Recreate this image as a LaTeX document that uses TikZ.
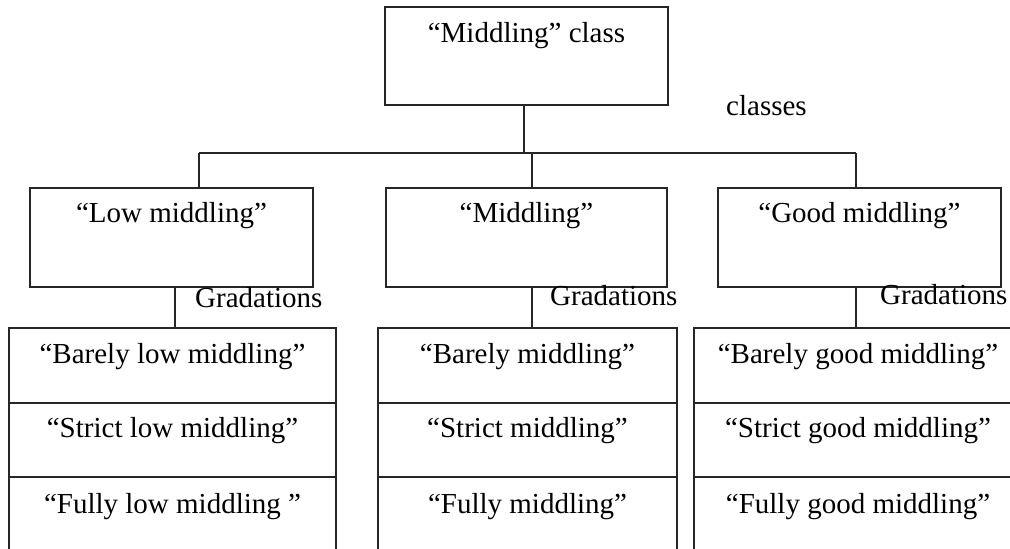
\documentclass[tikz,border=0pt]{standalone}
\usepackage{fontspec}
\setmainfont{Liberation Serif}
\begin{document}
\begin{tikzpicture}[x=1pt,y=-1pt,
  box/.style={draw=black!85, line width=1.3pt, rectangle, inner sep=0pt, fill=none},
  lbl/.style={anchor=base, inner sep=0pt, font=\fontsize{29}{35}\selectfont},
  conn/.style={draw=black!85, line width=1.3pt}]
\clip (0,0) rectangle (1010,549);
\fill[white] (0,0) rectangle (1010,549);
% top box
\node[box, minimum width=283pt, minimum height=98pt] (top) at (526.5,56) {};
\node[lbl] (topt) at (526.5,42) {“Middling” class};
\node[lbl, anchor=base west] (cls) at (726,115) {classes};
% level 2
\node[box, minimum width=283pt, minimum height=99pt] (low) at (171.5,237.5) {};
\node[box, minimum width=281pt, minimum height=99pt] (mid) at (526.5,237.5) {};
\node[box, minimum width=283pt, minimum height=99pt] (good) at (859.5,237.5) {};
\node[lbl] (lowt) at (171.5,222) {“Low middling”};
\node[lbl] (midt) at (526.5,222) {“Middling”};
\node[lbl] (goodt) at (859.5,222) {“Good middling”};
% bus
\coordinate (busL) at (199,153);
\coordinate (busR) at (856,153);
\coordinate (busM) at (532,153);
\coordinate (busT) at (524,153);
\draw[conn] (busT |- top.south) -- (busT);
\draw[conn] (busL) -- (busR);
\draw[conn] (busL) -- (busL |- low.north);
\draw[conn] (busM) -- (busM |- mid.north);
\draw[conn] (busR) -- (busR |- good.north);
% gradations labels
\node[lbl, anchor=base west] (g1) at (195,307) {Gradations};
\node[lbl, anchor=base west] (g2) at (550,305) {Gradations};
\node[lbl, anchor=base west] (g3) at (880,304) {Gradations};
% left stack
\node[box, minimum width=327pt, minimum height=75pt] (l1) at (172.5,365.5) {};
\node[box, minimum width=327pt, minimum height=74pt] (l2) at (172.5,440) {};
\node[box, minimum width=327pt, minimum height=75pt] (l3) at (172.5,514.5) {};
\node[lbl] at (172.5,363) {“Barely low middling”};
\node[lbl] at (172.5,437) {“Strict low middling”};
\node[lbl] at (172.5,513) {“Fully low middling ”};
% middle stack
\node[box, minimum width=299pt, minimum height=75pt] (m1) at (527.5,365.5) {};
\node[box, minimum width=299pt, minimum height=74pt] (m2) at (527.5,440) {};
\node[box, minimum width=299pt, minimum height=75pt] (m3) at (527.5,514.5) {};
\node[lbl] at (527.5,363) {“Barely middling”};
\node[lbl] at (527.5,437) {“Strict middling”};
\node[lbl] at (527.5,513) {“Fully middling”};
% right stack
\node[box, minimum width=328pt, minimum height=75pt] (r1) at (858,365.5) {};
\node[box, minimum width=328pt, minimum height=74pt] (r2) at (858,440) {};
\node[box, minimum width=328pt, minimum height=75pt] (r3) at (858,514.5) {};
\node[lbl] at (858,363) {“Barely good middling”};
\node[lbl] at (858,437) {“Strict good middling”};
\node[lbl] at (858,513) {“Fully good middling”};
% gradation connectors
\coordinate (dl) at (175,287);
\coordinate (dm) at (532,287);
\coordinate (dr) at (856,287);
\draw[conn] (dl) -- (dl |- l1.north);
\draw[conn] (dm) -- (dm |- m1.north);
\draw[conn] (dr) -- (dr |- r1.north);
\end{tikzpicture}
\end{document}
